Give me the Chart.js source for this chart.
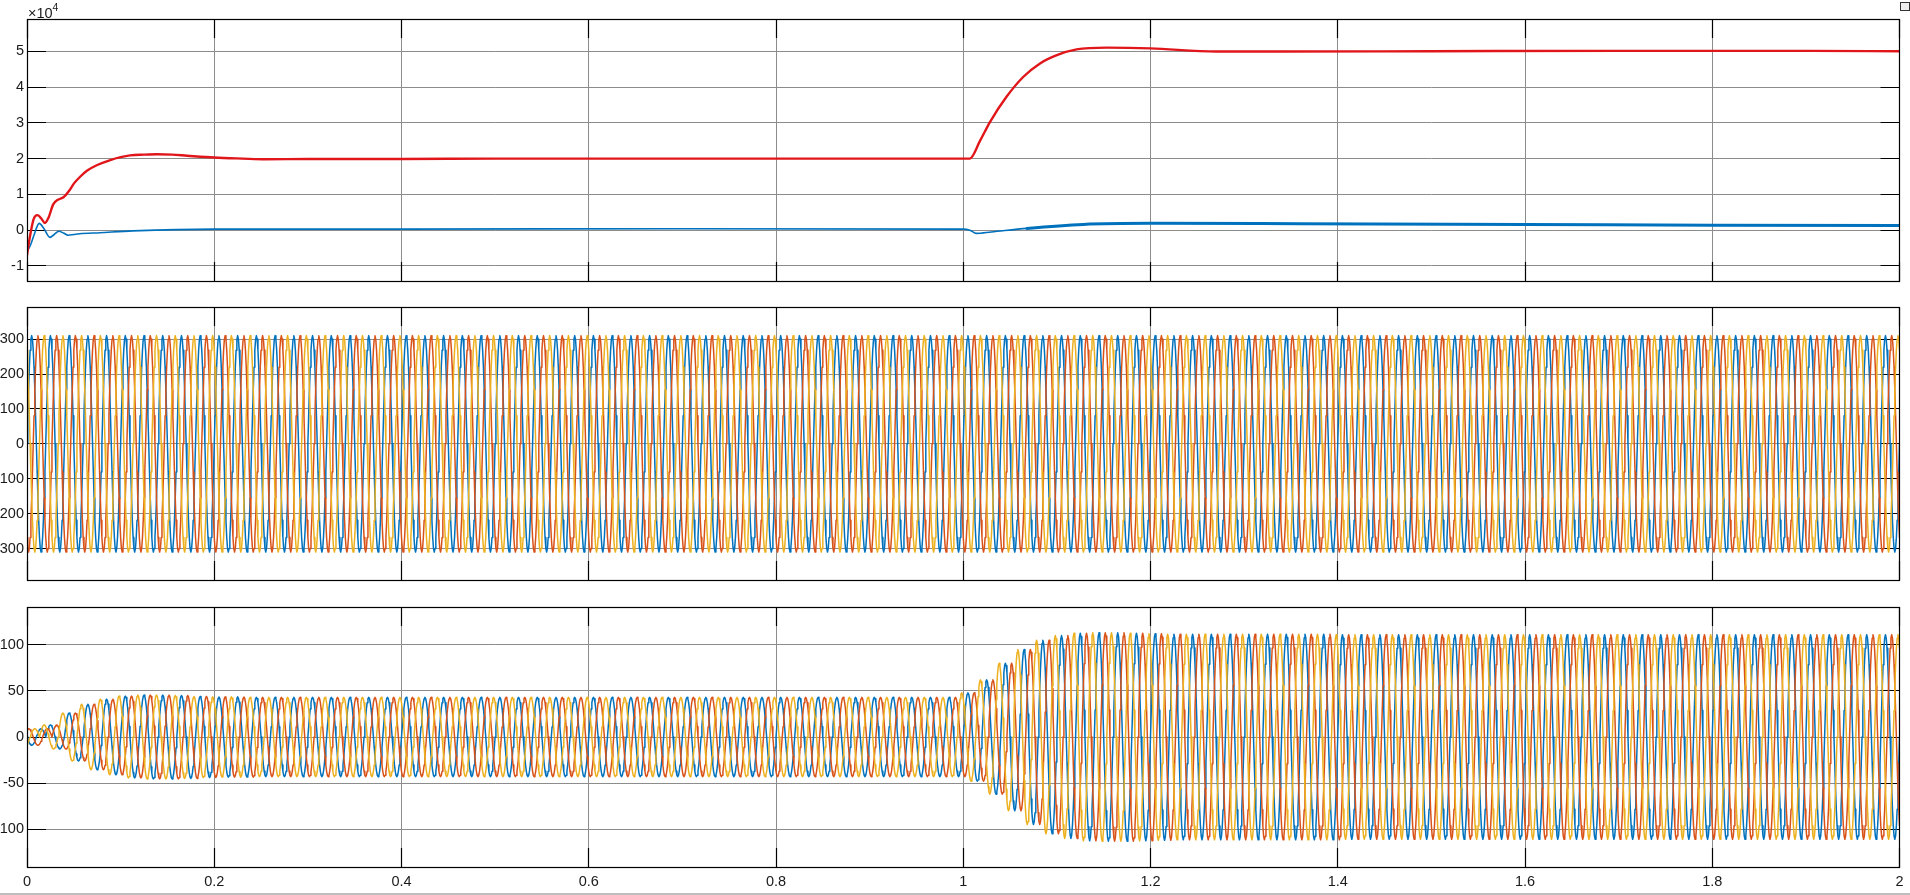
<!DOCTYPE html>
<html>
<head>
<meta charset="utf-8">
<script src="https://cdn.jsdelivr.net/npm/chart.js@4/dist/chart.umd.min.js"></script>
<style>
html,body{margin:0;padding:0;background:#fff;width:1910px;height:895px;overflow:hidden;position:relative;font-family:'Liberation Sans',Arial,sans-serif;}
canvas{position:absolute;left:0;top:0;}
#exp{position:absolute;left:28px;top:2px;font-size:14.5px;color:#1a1a1a;white-space:nowrap;}
#exp sup{font-size:10.5px;position:relative;top:-1px;}
#statusline{position:absolute;left:0;top:893px;width:1910px;height:2px;background:#bdbdbd;}
#icon{position:absolute;left:1900px;top:2px;width:8px;height:7px;border:1px solid #333;background:#eee;}
</style>
</head>
<body>
<canvas id="c1" width="1910" height="895"></canvas>
<canvas id="c2" width="1910" height="895"></canvas>
<canvas id="c3" width="1910" height="895"></canvas>
<div id="exp">×10<sup>4</sup></div>
<div id="icon"></div>
<div id="statusline"></div>
<script>
// ---------------- DATA ----------------
const xTicks = [0, 0.2, 0.4, 0.6, 0.8, 1, 1.2, 1.4, 1.6, 1.8, 2];
const xTickLabels = ['0', '0.2', '0.4', '0.6', '0.8', '1', '1.2', '1.4', '1.6', '1.8', '2'];

const pTicks = [-1, 0, 1, 2, 3, 4, 5];                 // ×10^4
const pTickLabels = ['-1', '0', '1', '2', '3', '4', '5'];
const vTicks = [-300, -200, -100, 0, 100, 200, 300];
const vTickLabels = ['-300', '-200', '-100', '0', '100', '200', '300'];
const iTicks = [-100, -50, 0, 50, 100];
const iTickLabels = ['-100', '-50', '0', '50', '100'];

// Top panel, red trace (×10^4)
const pTime = [0, 0.003, 0.007, 0.011, 0.016, 0.019, 0.023, 0.028, 0.033, 0.039, 0.045, 0.05, 0.057, 0.064, 0.075, 0.089, 0.1, 0.11, 0.125, 0.139, 0.155, 0.171, 0.2, 0.23, 0.255, 0.3, 0.4, 0.5, 0.6, 0.7, 0.8, 0.9, 1.0, 1.007, 1.018, 1.0285, 1.046, 1.064, 1.082, 1.1, 1.121, 1.153, 1.2, 1.27, 1.33, 1.5, 1.7, 1.9, 2.0];
const pValues = [-0.7, -0.2, 0.3, 0.42, 0.3, 0.2, 0.35, 0.72, 0.85, 0.92, 1.1, 1.3, 1.5, 1.66, 1.82, 1.96, 2.04, 2.09, 2.11, 2.12, 2.11, 2.08, 2.03, 2.0, 1.98, 1.99, 1.99, 2.0, 2.0, 2.0, 2.0, 2.0, 2.0, 2.0, 2.5, 3.02, 3.72, 4.28, 4.66, 4.89, 5.05, 5.1, 5.08, 4.99, 4.99, 5.0, 5.01, 5.01, 5.0];

// Top panel, blue trace (×10^4)
const qTime = [0, 0.004, 0.008, 0.013, 0.018, 0.0245, 0.029, 0.034, 0.039, 0.044, 0.05, 0.056, 0.078, 0.113, 0.2, 0.4, 0.7, 1.0, 1.007, 1.014, 1.03, 1.068, 1.128, 1.2, 1.36, 1.6, 1.8, 2.0];
const qValues = [-0.6, -0.4, -0.1, 0.19, 0.05, -0.2, -0.12, -0.03, -0.08, -0.14, -0.12, -0.1, -0.07, -0.02, 0.03, 0.03, 0.04, 0.03, 0.0, -0.09, -0.05, 0.05, 0.16, 0.19, 0.18, 0.16, 0.14, 0.13];

// Three-phase waveforms: 50 Hz (period 0.02 s), 100 cycles over 0..2 s
const cycleCount = 100;
const cycleLength = 0.02;
// one period of the waveform shape, 24 samples (read as a clean sinusoid)
const waveShape = [0, 0.259, 0.5, 0.707, 0.866, 0.966, 1, 0.966, 0.866, 0.707, 0.5, 0.259,
                   0, -0.259, -0.5, -0.707, -0.866, -0.966, -1, -0.966, -0.866, -0.707, -0.5, -0.259];
const phaseShiftSamples = [0, 8, -8];   // phase A, B (lag 120°), C (lead 120°)
const phaseNames = ['A', 'B', 'C'];

// middle panel: peak voltage per phase
const voltagePeaks = [310, 310, 310];

// bottom panel: peak current of each cycle
const currentPeaksByCycle = [
  -9, 13, 26, 35.5, 41, 44.4, 45.5, 45.5, 45, 44,
  43.5, 43.5, 43, 43, 43, 43, 43, 43, 43, 43,
  43, 43, 43, 43, 43, 43, 43, 43, 43, 43,
  43, 43, 43, 43, 43, 43, 43, 43, 43, 43,
  43, 43, 43, 43, 43, 43, 43, 43, 43, 43,
  48, 62, 80, 95, 105, 110, 112.5, 113, 113, 112.5,
  112, 111.5, 111.5, 111.5, 111.5, 111.5, 111.5, 111.5, 111.5, 111.5,
  111, 111, 111, 111, 111, 111, 111, 111, 111, 111,
  111, 111, 111, 111, 111, 111, 111, 111, 111, 111,
  111, 111, 111, 111, 111, 111, 111, 111, 111, 111
];

const seriesColors = ['#0072BD', '#D95319', '#EDB120'];
const topColors = ['#e0161b', '#0072BD'];

// ---------------- BUILD ----------------
const N = waveShape.length;
function phasePoints(phase, ampOfCycle) {
  const shift = phaseShiftSamples[phase];
  const pts = [];
  const total = cycleCount * N;
  for (let k = 0; k <= total; k++) {
    const j = k - shift;
    let cyc = Math.floor(j / N);
    cyc = Math.max(0, Math.min(cycleCount - 1, cyc));
    const s = waveShape[((j % N) + N) % N];
    pts.push({x: k * cycleLength / N, y: ampOfCycle(cyc, phase) * s});
  }
  return pts;
}

const alignPx = p => Math.round(p - 0.5) + 0.5;
const frameTicks = {
  id: 'frameTicks',
  beforeDatasetsDraw(chart) {
    const {ctx, chartArea: a, scales} = chart;
    const L = 19;
    ctx.save();
    ctx.strokeStyle = '#000';
    ctx.lineWidth = 1.2;
    ctx.beginPath();
    scales.x.ticks.forEach(t => {
      const px = alignPx(scales.x.getPixelForValue(t.value));
      ctx.moveTo(px, a.top); ctx.lineTo(px, a.top + L);
      ctx.moveTo(px, a.bottom); ctx.lineTo(px, a.bottom - L);
    });
    scales.y.ticks.forEach(t => {
      const py = alignPx(scales.y.getPixelForValue(t.value));
      ctx.moveTo(a.left, py); ctx.lineTo(a.left + L, py);
      ctx.moveTo(a.right, py); ctx.lineTo(a.right - L, py);
    });
    ctx.stroke();
    ctx.restore();
  },
  afterDraw(chart) {
    const {ctx, chartArea: a} = chart;
    ctx.save();
    ctx.strokeStyle = '#000';
    ctx.lineWidth = 1.2;
    const l = alignPx(a.left), r = alignPx(a.right), t = alignPx(a.top), b = alignPx(a.bottom);
    ctx.strokeRect(l, t, r - l, b - t);
    ctx.restore();
  }
};

const FONT = {family: "'Liberation Sans', Arial, sans-serif", size: 14.5};

function makeChart(id, datasets, yMin, yMax, yT, yL, padTop, padBottom, showX) {
  return new Chart(document.getElementById(id), {
    type: 'line',
    data: {datasets},
    options: {
      responsive: false,
      animation: false,
      events: [],
      parsing: false,
      normalized: true,
      layout: {padding: {left: 0, right: 10.5, top: padTop, bottom: padBottom}},
      plugins: {legend: {display: false}, tooltip: {enabled: false}},
      elements: {point: {radius: 0}, line: {borderJoinStyle: 'round', borderCapStyle: 'round'}},
      scales: {
        x: {
          type: 'linear', min: 0, max: 2,
          afterBuildTicks: s => { s.ticks = xTicks.map(v => ({value: v})); },
          afterFit: s => { s.height = showX ? 28 : 0; },
          ticks: {
            display: showX, padding: 6, color: '#1a1a1a', font: FONT,
            maxRotation: 0, autoSkip: false,
            callback: (v) => xTickLabels[xTicks.indexOf(v)] ?? ''
          },
          grid: {color: '#8c8c8c', lineWidth: 1, drawTicks: false},
          border: {display: false}
        },
        y: {
          type: 'linear', min: yMin, max: yMax,
          afterBuildTicks: s => { s.ticks = yT.map(v => ({value: v})); },
          afterFit: s => { s.width = 27; },
          ticks: {
            padding: 3, color: '#1a1a1a', font: FONT, autoSkip: false,
            callback: (v) => yL[yT.indexOf(v)] ?? ''
          },
          grid: {color: '#8c8c8c', lineWidth: 1, drawTicks: false},
          border: {display: false}
        }
      }
    },
    plugins: [frameTicks]
  });
}

// Top panel
makeChart('c1', [
  {label: 'blue', data: qTime.map((t, i) => ({x: t, y: qValues[i]})), borderColor: topColors[1],
   borderWidth: 1.6, cubicInterpolationMode: 'monotone', order: 2,
   segment: {borderWidth: c => (c.p0.parsed.x >= 1.04 ? 3 : 1.6)}},
  {label: 'red', data: pTime.map((t, i) => ({x: t, y: pValues[i]})), borderColor: topColors[0],
   borderWidth: 2.4, cubicInterpolationMode: 'monotone', order: 1}
], -1.42, 5.9, pTicks, pTickLabels, 19, 895 - 281, false);

// Middle panel (voltages)
makeChart('c2', [0, 1, 2].map(p => ({
  label: 'V' + phaseNames[p],
  data: phasePoints(p, (c, ph) => voltagePeaks[ph]),
  borderColor: seriesColors[p], borderWidth: 1.5, tension: 0, order: 3 - p
})), -390, 392, vTicks, vTickLabels, 307, 895 - 580, false);

// Bottom panel (currents)
makeChart('c3', [0, 1, 2].map(p => ({
  label: 'I' + phaseNames[p],
  data: phasePoints(p, (c) => currentPeaksByCycle[c]),
  borderColor: seriesColors[p], borderWidth: 1.5, tension: 0, order: 3 - p
})), -141, 141, iTicks, iTickLabels, 607, 0, true);
</script>
</body>
</html>
